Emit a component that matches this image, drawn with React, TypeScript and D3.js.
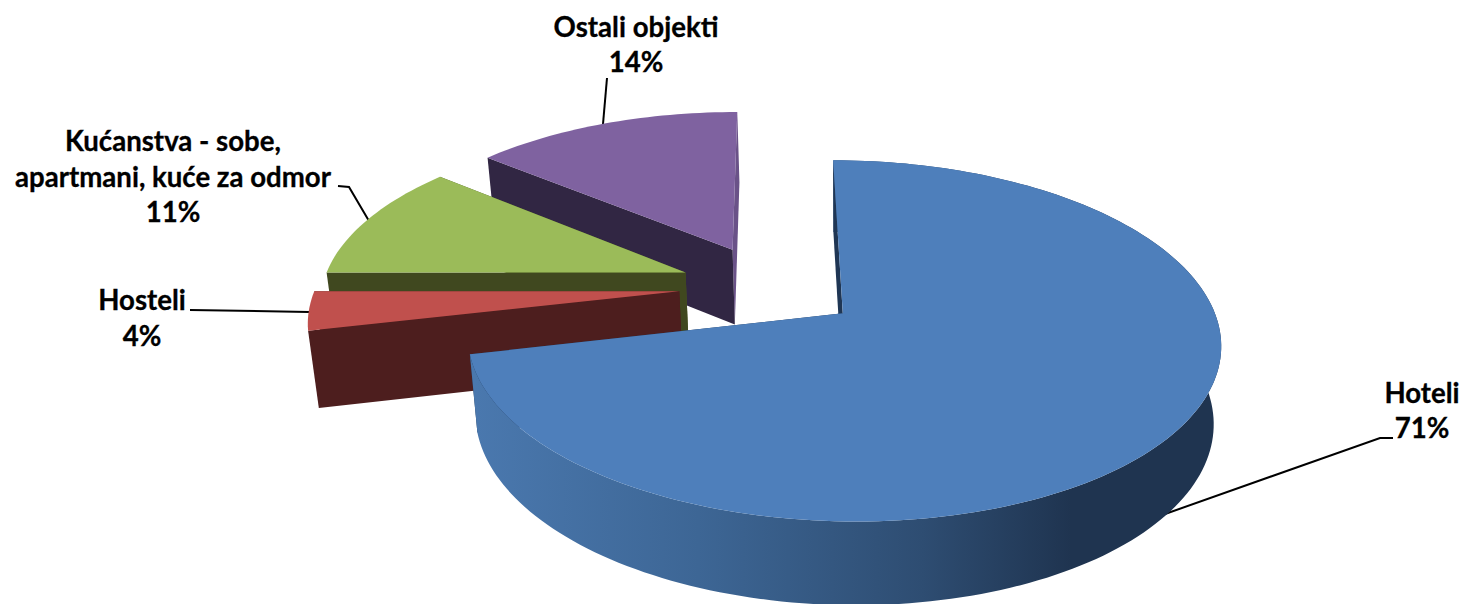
import React from "react";
import * as d3 from "d3";

// ---- data ----
const categories = ["Hoteli", "Hosteli", "Kućanstva - sobe, apartmani, kuće za odmor", "Ostali objekti"];
const shares = [71.4, 3.6, 11, 14];
const topColors = ["#4e7fbb", "#c0504d", "#9bbb59", "#7f62a0"];
const startWallColors = ["#1f3654", "#4d1e1e", "#40481f", "#312643"];
const endWallColors = ["#1f3654", "#4d1e1e", "#4a5a24", "#6a5288"];

// ---- projection of the tilted pie (layout) ----
const W = 1465, H = 604;
const CX = 770, CY = 286.5, A = 363.5, B = 168.3, K = 0.149, EXPLODE = 0.25;
const VX = 845, SHRINK = 0.98;

type P = [number, number];
const proj = (u: number, v: number): P => {
  const w = 1 + K * v;
  return [CX + (A * u) / w, CY - (B * v) / w];
};
const drop = ([x, y]: P): P => [VX + (x - VX) * SHRINK, y + 66.5 + 0.033 * y];

const pie = d3.pie<number>().sort(null).value((d) => d).startAngle(0).endAngle(2 * Math.PI);
const arcs = pie(shares);
const line = d3.line<P>().x((d) => d[0]).y((d) => d[1]);
const closed = (pts: P[]) => line(pts) + "Z";

const sliceGeom = (a: d3.PieArcDatum<number>) => {
  const mid = (a.startAngle + a.endAngle) / 2;
  const ou = EXPLODE * Math.sin(mid), ov = EXPLODE * Math.cos(mid);
  const apex = proj(ou, ov);
  const n = Math.max(8, Math.ceil((a.endAngle - a.startAngle) * 40));
  const rim = d3.range(n + 1).map((i) => {
    const t = a.startAngle + ((a.endAngle - a.startAngle) * i) / n;
    return proj(ou + Math.sin(t), ov + Math.cos(t));
  });
  return { apex, rim };
};

const order = [3, 2, 1, 0];

const blueStops: [number, string][] = [
  [0, "#4a78ae"],
  [0.3, "#3d6695"],
  [0.6, "#2e4d72"],
  [0.8, "#1f3450"],
  [1, "#1f3450"],
];

const labels = [
  { x: 1422, lines: [["Hoteli", 403], ["71%", 438]] },
  { x: 142, lines: [["Hosteli", 310], ["4%", 346]] },
  { x: 173, lines: [["Kućanstva - sobe,", 151], ["apartmani, kuće za odmor", 186.5], ["11%", 222]] },
  { x: 636, lines: [["Ostali objekti", 37], ["14%", 72]] },
] as { x: number; lines: [string, number][] }[];

const leaders: P[][] = [
  [[1393, 438], [1380, 438], [1165, 514]],
  [[190, 310], [309, 312]],
  [[338, 186], [349, 187], [369, 221]],
  [[607, 78], [603, 124]],
];

export default function App() {
  return (
    <svg
      width={W}
      height={H}
      viewBox={`0 0 ${W} ${H}`}
      style={{ position: "absolute", left: 0, top: 0, background: "#fff" }}
    >
      <defs>
        <linearGradient id="blueWall" gradientUnits="userSpaceOnUse" x1={475} x2={1220} y1={0} y2={0}>
          {blueStops.map(([o, c]) => (
            <stop key={o} offset={o} stopColor={c} />
          ))}
        </linearGradient>
      </defs>
      {leaders.map((l, i) => (
        <path key={i} d={line(l) || ""} fill="none" stroke="#000" strokeWidth={2} />
      ))}
      {order.map((i) => {
        const { apex, rim } = sliceGeom(arcs[i]);
        const first = rim[0], last = rim[rim.length - 1];
        return (
          <g key={categories[i]}>
            <path d={closed([apex, last, drop(last), drop(apex)])} fill={endWallColors[i]} />
            {i === 0 && <path d={closed([...rim, ...rim.map(drop).reverse()])} fill="url(#blueWall)" />}
            <path d={closed([apex, first, drop(first), drop(apex)])} fill={startWallColors[i]} />
            <path d={closed([apex, ...rim])} fill={topColors[i]} />
          </g>
        );
      })}
      <g
        fontFamily="Lato, 'Open Sans', sans-serif"
        fontWeight={700}
        fontSize={27.6}
        textAnchor="middle"
        fill="#000"
        stroke="#000"
        strokeWidth={0.3}
      >
        {labels.map((l) =>
          l.lines.map(([t, y]) => (
            <text key={t} x={l.x} y={y}>
              {t}
            </text>
          ))
        )}
      </g>
    </svg>
  );
}
